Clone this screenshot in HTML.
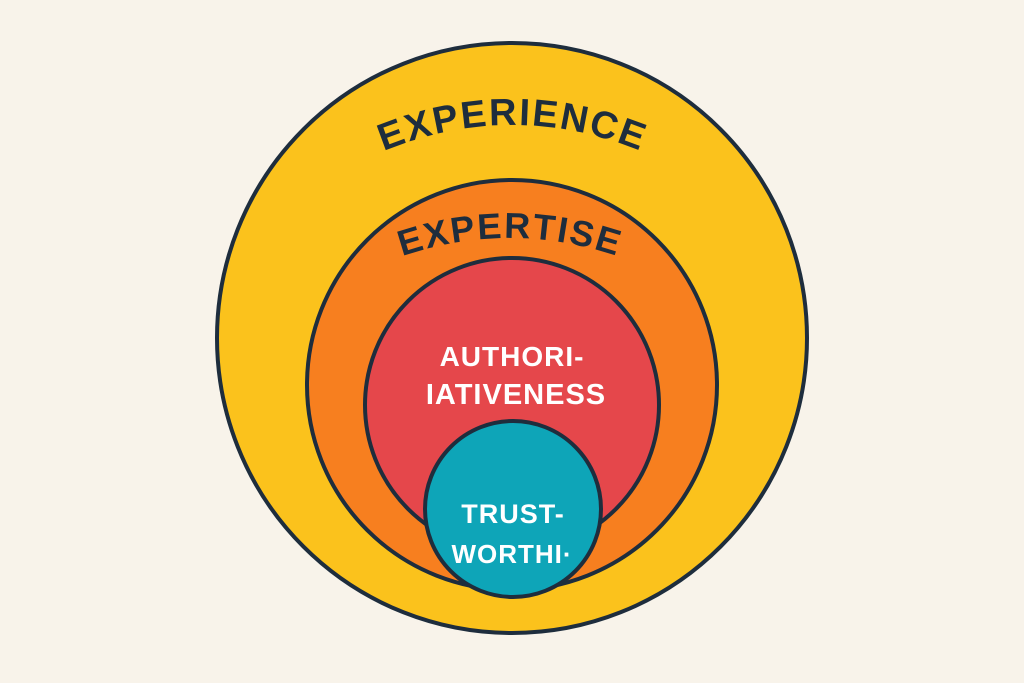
<!DOCTYPE html>
<html><head><style>
html,body{margin:0;padding:0;background:#f8f3ea;}
svg{display:block}
</style></head><body>
<svg width="1024" height="683" viewBox="0 0 1024 683" xmlns="http://www.w3.org/2000/svg">
<rect width="1024" height="683" fill="#f8f3ea"/>
<circle cx="512" cy="338" r="295" fill="#fbc21c" stroke="#1e2d3d" stroke-width="4"/>
<circle cx="512" cy="385" r="205" fill="#f77f1f" stroke="#1e2d3d" stroke-width="4"/>
<circle cx="512" cy="405" r="147" fill="#e5474b" stroke="#1e2d3d" stroke-width="4"/>
<circle cx="513" cy="509" r="88" fill="#0ea5b8" stroke="#1e2d3d" stroke-width="4"/>
<defs>
<path id="a1" d="M370 157 Q512 93 655 157"/>
<path id="a2" d="M392 260 Q510 216 628 260"/>
</defs>
<g font-family="Liberation Sans, sans-serif" font-weight="bold" fill="#1e2d3d">
<text font-size="38" letter-spacing="2" text-anchor="middle"><textPath href="#a1" startOffset="50%">EXPERIENCE</textPath></text>
<text font-size="36" letter-spacing="2" text-anchor="middle"><textPath href="#a2" startOffset="50%">EXPERTISE</textPath></text>
</g>
<g font-family="Liberation Sans, sans-serif" font-weight="bold" fill="#ffffff" text-anchor="middle">
<text x="512" y="366" font-size="28" letter-spacing="1">AUTHORI-</text>
<text x="516" y="404" font-size="29" letter-spacing="1">IATIVENESS</text>
<text x="513" y="523" font-size="27" letter-spacing="1">TRUST-</text>
<text x="512" y="563" font-size="26" letter-spacing="1">WORTHI·</text>
</g>
</svg>
</body></html>
